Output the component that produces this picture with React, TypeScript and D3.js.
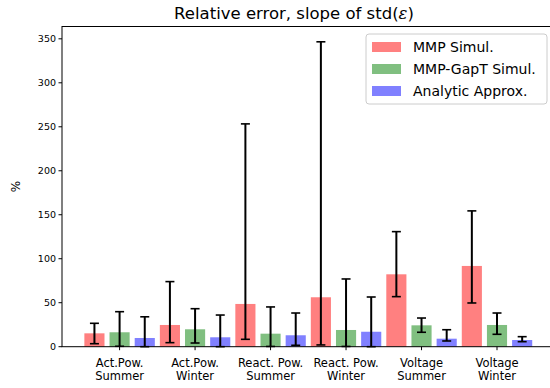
import React, { useEffect, useRef } from "react";
import * as d3 from "d3";

const categories = [
  ["Act.Pow.", "Summer"],
  ["Act.Pow.", "Winter"],
  ["React. Pow.", "Summer"],
  ["React. Pow.", "Winter"],
  ["Voltage", "Summer"],
  ["Voltage", "Winter"],
];
const seriesNames = ["MMP Simul.", "MMP-GapT Simul.", "Analytic Approx."];
const seriesColors = ["#ff8080", "#80bf80", "#8080ff"];

// bar heights in %
const mmpValues = [15.2, 24.7, 48.6, 56.2, 82.3, 91.8];
const gapValues = [16.4, 19.8, 14.8, 19.0, 24.3, 24.7];
const anaValues = [9.9, 10.7, 13.0, 17.0, 9.1, 7.6];
// error bar ends [low, high]
const mmpErr = [[3.4, 26.6], [4.6, 74], [8.4, 253.3], [2, 346.6], [56.9, 130.8], [49.7, 154.4]];
const gapErr = [[0.5, 39.8], [4.2, 43.2], [0.3, 45.2], [0.3, 77], [16.4, 32.6], [14.1, 38.3]];
const anaErr = [[0, 34], [0, 36], [1.6, 38.3], [0, 56.5], [6.5, 19.3], [5.7, 11.4]];
const yTicks = [0, 50, 100, 150, 200, 250, 300, 350];

export default function App() {
  const svgRef = useRef<SVGSVGElement>(null);

  useEffect(() => {
    const width = 550;
    const height = 388;
    const svg = d3.select(svgRef.current).attr("width", width).attr("height", height);
    svg.selectAll("*").remove();

    const font = "DejaVu Sans";
    const left = 62, right = 554.6, top = 26.5, bottom = 346.7;
    const barW = 0.8 / 3;
    const x = d3.scaleLinear().domain([-0.763, 5.763]).range([left, right]);
    const y = d3.scaleLinear().domain([0, 364]).range([bottom, top]);

    const values = [mmpValues, gapValues, anaValues];
    const errs = [mmpErr, gapErr, anaErr];

    values.forEach((vals, s) => {
      const off = (s - 1) / 3;
      const g = svg.append("g");
      g.selectAll("rect")
        .data(vals)
        .join("rect")
        .attr("x", (d, i) => x(i + off - barW / 2))
        .attr("width", x(barW) - x(0))
        .attr("y", (d) => y(d))
        .attr("height", (d) => y(0) - y(d))
        .attr("fill", seriesColors[s]);
    });

    errs.forEach((e, s) => {
      const off = (s - 1) / 3;
      const g = svg.append("g").attr("stroke", "black");
      e.forEach((d, i) => {
        const cx = x(i + off);
        g.append("line").attr("x1", cx).attr("x2", cx).attr("y1", y(d[0])).attr("y2", y(d[1])).attr("stroke-width", 2);
        [d[0], d[1]].forEach((v) => {
          g.append("line").attr("x1", cx - 4.5).attr("x2", cx + 4.5).attr("y1", y(v)).attr("y2", y(v)).attr("stroke-width", 1.6);
        });
      });
    });

    // spines
    svg.append("rect")
      .attr("x", left).attr("y", top)
      .attr("width", right - left).attr("height", bottom - top)
      .attr("fill", "none").attr("stroke", "black").attr("stroke-width", 1);

    // y axis
    const yg = svg.append("g");
    yTicks.forEach((t) => {
      yg.append("line").attr("x1", left - 3.5).attr("x2", left).attr("y1", y(t)).attr("y2", y(t)).attr("stroke", "black");
      yg.append("text").attr("x", left - 6).attr("y", y(t)).attr("dy", "0.35em")
        .attr("text-anchor", "end").attr("font-family", font).attr("font-size", 9.5).text(t);
    });

    // x axis
    const xg = svg.append("g");
    categories.forEach((c, i) => {
      xg.append("line").attr("x1", x(i)).attr("x2", x(i)).attr("y1", bottom).attr("y2", bottom + 3.5).attr("stroke", "black");
      c.forEach((line, k) => {
        xg.append("text").attr("x", x(i)).attr("y", bottom + 20 + k * 13.5)
          .attr("text-anchor", "middle").attr("font-family", font).attr("font-size", 11.5).text(line);
      });
    });

    svg.append("text").attr("transform", `translate(20,${(top + bottom) / 2}) rotate(-90)`)
      .attr("text-anchor", "middle").attr("font-family", font).attr("font-size", 12).text("%");

    svg.append("text").attr("x", 294).attr("y", 19).attr("text-anchor", "middle")
      .attr("font-family", font).attr("font-size", 16.5)
      .text("Relative error, slope of std(")
      .append("tspan").attr("font-style", "italic").attr("font-family", "DejaVu Serif").text("ε")
      .select(function () { return this.parentNode as any; })
      .append("tspan").text(")");

    // legend
    const lg = svg.append("g");
    lg.append("rect").attr("x", 366).attr("y", 34).attr("width", 181).attr("height", 70).attr("rx", 3)
      .attr("fill", "white").attr("fill-opacity", 0.8).attr("stroke", "#cccccc");
    seriesNames.forEach((n, s) => {
      const cy = 47 + s * 22;
      lg.append("rect").attr("x", 372).attr("y", cy - 5).attr("width", 29).attr("height", 10).attr("fill", seriesColors[s]);
      lg.append("text").attr("x", 413).attr("y", cy).attr("dy", "0.35em")
        .attr("font-family", font).attr("font-size", 14).text(n);
    });
  }, []);

  return (
    <div>
      <svg ref={svgRef} style={{ position: "absolute", left: 0, top: 0 }}></svg>
    </div>
  );
}
